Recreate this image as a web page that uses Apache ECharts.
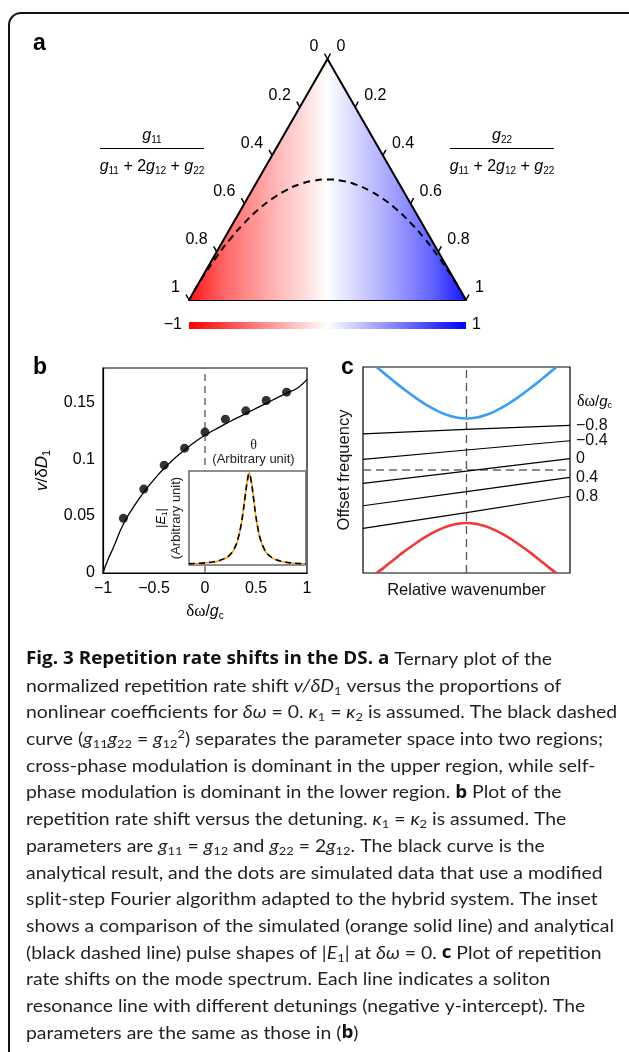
<!DOCTYPE html>
<html>
<head>
<meta charset="utf-8">
<script src="https://cdn.jsdelivr.net/npm/echarts@6/dist/echarts.min.js"></script>
<style>
  html, body { margin: 0; padding: 0; background: #fff; }
  #chart { width: 629px; height: 1052px; }
</style>
</head>
<body>
<div id="chart"></div>
<script>
// ---------- data ----------
// a: ternary plot, g11 fraction on the left edge, g22 fraction on the right edge
const ternTicks = [0, 0.2, 0.4, 0.6, 0.8, 1];
const ternTickLabels = ['0', '0.2', '0.4', '0.6', '0.8', '1'];
// triangle corners in plot coords (x along base, y = height fraction)
const cornerX = [0, 0.5, 1];
const cornerY = [0, 1, 0];
// dashed boundary curve (g11 g22 = g12^2)
const boundaryX = [0.02, 0.05, 0.1, 0.15, 0.2, 0.25, 0.3, 0.35, 0.4, 0.45, 0.5, 0.55, 0.6, 0.65, 0.7, 0.75, 0.8, 0.85, 0.9, 0.95, 0.98];
const boundaryY = [0.04, 0.095, 0.18, 0.255, 0.32, 0.375, 0.42, 0.455, 0.48, 0.495, 0.5, 0.495, 0.48, 0.455, 0.42, 0.375, 0.32, 0.255, 0.18, 0.095, 0.04];

// b: repetition rate shift vs detuning
const detuning = [-1, -0.95, -0.9, -0.8, -0.7, -0.6, -0.5, -0.4, -0.3, -0.2, -0.1, 0, 0.1, 0.2, 0.3, 0.4, 0.5, 0.6, 0.7, 0.8, 0.9, 0.95, 1];
const shiftTheory = [0, 0.012, 0.022, 0.043, 0.058, 0.071, 0.082, 0.092, 0.1005, 0.108, 0.115, 0.121, 0.126, 0.131, 0.1355, 0.14, 0.1445, 0.149, 0.1535, 0.158, 0.162, 0.1655, 0.17];
const simDetuning = [-0.8, -0.6, -0.4, -0.2, 0, 0.2, 0.4, 0.6, 0.8];
const shiftSim = [0.048, 0.0737, 0.0947, 0.1096, 0.1237, 0.135, 0.1424, 0.1515, 0.1588];

// b inset: pulse shape |E1|
const insetTheta = [0, 0.1, 0.2, 0.25, 0.3, 0.34, 0.37, 0.4, 0.42, 0.44, 0.46, 0.48, 0.5, 0.514, 0.53, 0.55, 0.57, 0.59, 0.61, 0.64, 0.67, 0.72, 0.8, 0.9, 1];
const pulseSim = [0.003, 0.008, 0.02, 0.033, 0.055, 0.085, 0.13, 0.2, 0.28, 0.39, 0.55, 0.75, 0.93, 1, 0.93, 0.74, 0.54, 0.38, 0.27, 0.17, 0.11, 0.06, 0.025, 0.009, 0.003];
const pulseTheory = [0.004, 0.01, 0.023, 0.037, 0.06, 0.09, 0.135, 0.205, 0.285, 0.395, 0.55, 0.74, 0.92, 0.99, 0.92, 0.735, 0.54, 0.385, 0.275, 0.175, 0.115, 0.064, 0.028, 0.01, 0.004];

// c: mode spectrum
const waveK = [-0.87, -0.8, -0.7, -0.6, -0.5, -0.4, -0.3, -0.2, -0.1, 0, 0.1, 0.2, 0.3, 0.4, 0.5, 0.6, 0.7, 0.8, 0.87];
const upperBranch = [1, 0.943, 0.86, 0.781, 0.707, 0.64, 0.583, 0.539, 0.51, 0.5, 0.51, 0.539, 0.583, 0.64, 0.707, 0.781, 0.86, 0.943, 1];
const lowerBranch = [-1, -0.95, -0.868, -0.79, -0.718, -0.652, -0.596, -0.552, -0.525, -0.515, -0.525, -0.552, -0.596, -0.652, -0.718, -0.79, -0.868, -0.95, -1];
const lineK = [-1, 0, 1];
const resonanceLabels = ['\u22120.8', '\u22120.4', '0', '0.4', '0.8'];
const resonanceLines = [
  [0.35, 0.395, 0.434],
  [0.104, 0.194, 0.284],
  [-0.129, -0.01, 0.11],
  [-0.347, -0.21, -0.071],
  [-0.566, -0.414, -0.255]
];

// caption
const captionLines = [
  '{b|Fig. 3 Repetition rate shifts in the DS. a} Ternary plot of the',
  'normalized repetition rate shift {i|v/\u03b4D}{s|1} versus the proportions of',
  'nonlinear coefficients for {i|\u03b4\u03c9} = 0. {i|\u03ba}{s|1} = {i|\u03ba}{s|2} is assumed. The black dashed',
  'curve ({i|g}{s|11}{i|g}{s|22} = {i|g}{s|12}{p|2}) separates the parameter space into two regions;',
  'cross-phase modulation is dominant in the upper region, while self-',
  'phase modulation is dominant in the lower region. {b|b} Plot of the',
  'repetition rate shift versus the detuning. {i|\u03ba}{s|1} = {i|\u03ba}{s|2} is assumed. The',
  'parameters are {i|g}{s|11} = {i|g}{s|12} and {i|g}{s|22} = 2{i|g}{s|12}. The black curve is the',
  'analytical result, and the dots are simulated data that use a modified',
  'split-step Fourier algorithm adapted to the hybrid system. The inset',
  'shows a comparison of the simulated (orange solid line) and analytical',
  '(black dashed line) pulse shapes of |{i|E}{s|1}| at {i|\u03b4\u03c9} = 0. {b|c} Plot of repetition',
  'rate shifts on the mode spectrum. Each line indicates a soliton',
  'resonance line with different detunings (negative y-intercept). The',
  'parameters are the same as those in ({b|b})'
];

// ---------- styles ----------
const SANS = '"Liberation Sans", Arial, sans-serif';
const SERIF = '"Liberation Serif", "Times New Roman", serif';
const CAP = 'Lato, "Open Sans", sans-serif';
const CAP_BOLD = '"Open Sans", Lato, sans-serif';

const zip = (xs, ys) => xs.map((x, i) => [x, ys[i]]);

function labelRich(size, lineH) {
  const sub = Math.round(size * 0.62);
  return {
    i: { fontFamily: SANS, fontSize: size, fontStyle: 'italic', color: '#000', fill: '#000', lineHeight: lineH },
    s: { fontFamily: SANS, fontSize: sub, color: '#000', fill: '#000', lineHeight: sub + 1, verticalAlign: 'bottom' },
    d: { fontFamily: SERIF, fontSize: size + 1, color: '#000', fill: '#000', lineHeight: lineH },
    n: { fontFamily: SANS, fontSize: size, color: '#000', fill: '#000', lineHeight: lineH }
  };
}

const capRich = {
  b: { fontFamily: CAP_BOLD, fontSize: 17.5, fontWeight: 'bold', fill: '#111', lineHeight: 22 },
  i: { fontFamily: CAP, fontSize: 18, fontStyle: 'italic', fill: '#231f20', lineHeight: 22 },
  s: { fontFamily: CAP, fontSize: 12, fill: '#231f20', lineHeight: 13, verticalAlign: 'bottom' },
  p: { fontFamily: CAP, fontSize: 12, fill: '#231f20', lineHeight: 13, verticalAlign: 'top' }
};

// squeeze caption so lines break like the printed page
const measure = document.createElement('canvas').getContext('2d');
measure.font = '18px Lato';
const capScale = 588 / measure.measureText('shows a comparison of the simulated (orange solid line) and analytical').width;

const chart = echarts.init(document.getElementById('chart'));

const hidden = { show: false };
const tickData = ternTicks.map((t) => [0, t]).concat(ternTicks.map((t) => [1, t]));

function fraction(cx, numer) {
  return [
    { type: 'text', x: cx, y: 136, style: { text: numer, align: 'center', verticalAlign: 'middle', fontFamily: SANS, fontSize: 16, fill: '#000', lineHeight: 18, rich: labelRich(16, 18) } },
    { type: 'line', shape: { x1: cx - 52, y1: 148.5, x2: cx + 52, y2: 148.5 }, style: { stroke: '#000', lineWidth: 1 } },
    { type: 'text', x: cx, y: 167, style: { text: '{i|g}{s|11} + 2{i|g}{s|12} + {i|g}{s|22}', align: 'center', verticalAlign: 'middle', fontFamily: SANS, fontSize: 16, fill: '#000', lineHeight: 18, rich: labelRich(16, 18) } }
  ];
}

const option = {
  animation: false,
  backgroundColor: '#fff',
  grid: [
    { left: 189, top: 59, width: 277, height: 241, outerBoundsMode: 'none' },
    { left: 103, top: 368, width: 204, height: 205, show: true, borderColor: '#000', borderWidth: 1.2, outerBoundsMode: 'none' },
    { left: 189, top: 471, width: 117, height: 94, show: true, borderColor: '#6b6b6b', borderWidth: 1.6, backgroundColor: '#fff', z: 3, outerBoundsMode: 'none' },
    { left: 363, top: 367, width: 207, height: 206, show: true, borderColor: '#000', borderWidth: 1.2, outerBoundsMode: 'none' }
  ],
  xAxis: [
    { gridIndex: 0, type: 'value', min: 0, max: 1, axisLine: { show: true, onZero: false, lineStyle: { color: '#000', width: 2 } }, axisTick: hidden, axisLabel: hidden, splitLine: hidden },
    {
      gridIndex: 1, type: 'value', min: -1, max: 1, interval: 0.5,
      axisLine: { onZero: false, lineStyle: { color: '#000', width: 1.2 } }, axisTick: hidden, splitLine: hidden,
      axisLabel: { color: '#000', fontSize: 16, fontFamily: SANS, margin: 8, formatter: (v) => String(v).replace('-', '\u2212') },
      name: '{d|\u03b4\u03c9}/{i|g}{s|c}', nameLocation: 'middle', nameGap: 30,
      nameTextStyle: { fontFamily: SANS, fontSize: 16, color: '#000', lineHeight: 18, rich: labelRich(16, 18) }
    },
    {
      gridIndex: 2, type: 'value', min: 0, max: 1, position: 'top', z: 5,
      axisLine: { show: false, onZero: false }, axisTick: hidden, axisLabel: hidden, splitLine: hidden,
      name: '{t|\u03b8}\n(Arbitrary unit)', nameLocation: 'middle', nameGap: 5,
      nameTextStyle: {
        fontFamily: SANS, fontSize: 13, color: '#222', lineHeight: 14, padding: [0, 0, 0, 12],
        rich: { t: { fontFamily: SERIF, fontSize: 14, color: '#222', lineHeight: 14 } }
      }
    },
    {
      gridIndex: 3, type: 'value', min: -1, max: 1,
      axisLine: { show: false, onZero: false }, axisTick: hidden, axisLabel: hidden, splitLine: hidden,
      name: 'Relative wavenumber', nameLocation: 'middle', nameGap: 9,
      nameTextStyle: { fontFamily: SANS, fontSize: 16.5, color: '#111' }
    }
  ],
  yAxis: [
    { gridIndex: 0, type: 'value', min: 0, max: 1, show: false },
    {
      gridIndex: 1, type: 'value', min: 0, max: 0.18, interval: 0.05,
      axisLine: { show: true, onZero: false, lineStyle: { color: '#000', width: 1.2 } }, axisTick: hidden, splitLine: hidden,
      axisLabel: {
        color: '#000', fontSize: 16, fontFamily: SANS, margin: 8,
        formatter: (v) => (Math.abs(v * 20 - Math.round(v * 20)) < 1e-6 ? String(+v.toFixed(2)) : '')
      },
      name: '{i|v}/\u03b4{i|D}{s|1}', nameLocation: 'middle', nameRotate: 90, nameGap: 51,
      nameTextStyle: { fontFamily: SANS, fontSize: 17, color: '#000', lineHeight: 19, rich: labelRich(17, 19) }
    },
    {
      gridIndex: 2, type: 'value', min: -0.01, max: 1.02, z: 5,
      axisLine: { show: false, onZero: false }, axisTick: hidden, axisLabel: hidden, splitLine: hidden,
      name: '|{i|E}{s|1}|\n(Arbitrary unit)', nameLocation: 'middle', nameRotate: 90, nameGap: 5,
      nameTextStyle: { fontFamily: SANS, fontSize: 13, color: '#222', lineHeight: 15, rich: labelRich(13, 15) }
    },
    {
      gridIndex: 3, type: 'value', min: -1, max: 1,
      axisLine: { show: false, onZero: false }, axisTick: hidden, axisLabel: hidden, splitLine: hidden,
      name: 'Offset frequency', nameLocation: 'middle', nameRotate: 90, nameGap: 10,
      nameTextStyle: { fontFamily: SANS, fontSize: 16.5, color: '#111' }
    }
  ],
  series: [
    // a: triangle with red-white-blue fill
    {
      type: 'line', xAxisIndex: 0, yAxisIndex: 0, z: 1,
      data: zip(cornerX, cornerY), symbol: 'none',
      lineStyle: { color: '#000', width: 2, join: 'miter' },
      areaStyle: {
        opacity: 1,
        color: new echarts.graphic.LinearGradient(0, 0, 1, 0, [
          { offset: 0, color: '#ff1414' },
          { offset: 0.12, color: '#ff6262' },
          { offset: 0.28, color: '#ffa8a8' },
          { offset: 0.42, color: '#ffdede' },
          { offset: 0.5, color: '#ffffff' },
          { offset: 0.58, color: '#dedeff' },
          { offset: 0.72, color: '#a8a8ff' },
          { offset: 0.88, color: '#6262ff' },
          { offset: 1, color: '#1414ff' }
        ])
      }
    },
    // a: dashed boundary
    {
      type: 'line', xAxisIndex: 0, yAxisIndex: 0, z: 3,
      data: zip(boundaryX, boundaryY), symbol: 'none', smooth: true,
      lineStyle: { color: '#000', width: 2, type: [7, 5] }
    },
    // a: ternary ticks and labels
    {
      type: 'custom', xAxisIndex: 0, yAxisIndex: 0, z: 4,
      data: tickData,
      renderItem: (params, api) => {
        const side = api.value(0);
        const t = api.value(1);
        const p = api.coord([side === 0 ? 0.5 - 0.5 * t : 0.5 + 0.5 * t, 1 - t]);
        const dir = side === 0 ? -1 : 1;
        return {
          type: 'group',
          children: [
            { type: 'line', shape: { x1: p[0], y1: p[1], x2: p[0] + dir * 3, y2: p[1] - 5.5 }, style: { stroke: '#000', lineWidth: 1.5 } },
            {
              type: 'text', x: p[0] + dir * 9, y: p[1] - 12,
              style: { text: ternTickLabels[params.dataIndex % ternTicks.length], align: side === 0 ? 'right' : 'left', verticalAlign: 'middle', fontFamily: SANS, fontSize: 16, fill: '#000' }
            }
          ]
        };
      }
    },
    // b: detuning marker
    {
      type: 'line', xAxisIndex: 1, yAxisIndex: 1, z: 1,
      data: [[0, 0], [0, 0.18]], symbol: 'none',
      lineStyle: { color: '#555', width: 1.3, type: [7, 5] }
    },
    // b: analytical curve
    {
      type: 'line', xAxisIndex: 1, yAxisIndex: 1, z: 2,
      data: zip(detuning, shiftTheory), symbol: 'none', smooth: true,
      lineStyle: { color: '#000', width: 1.3 }
    },
    // b: simulated points
    {
      type: 'scatter', xAxisIndex: 1, yAxisIndex: 1, z: 2,
      data: zip(simDetuning, shiftSim), symbolSize: 9,
      itemStyle: { color: '#000' }
    },
    // inset: simulated pulse
    {
      type: 'line', xAxisIndex: 2, yAxisIndex: 2, z: 6,
      data: zip(insetTheta, pulseSim), symbol: 'none', smooth: true,
      lineStyle: { color: '#f7a21b', width: 1.6 }
    },
    // inset: analytical pulse
    {
      type: 'line', xAxisIndex: 2, yAxisIndex: 2, z: 7,
      data: zip(insetTheta, pulseTheory), symbol: 'none', smooth: true,
      lineStyle: { color: '#000', width: 1.6, type: [6, 4] }
    },
    // c: dashed guides
    {
      type: 'line', xAxisIndex: 3, yAxisIndex: 3, z: 1,
      data: [[0, -1], [0, 1]], symbol: 'none',
      lineStyle: { color: '#555', width: 1.3, type: [8, 5] }
    },
    {
      type: 'line', xAxisIndex: 3, yAxisIndex: 3, z: 1,
      data: [[-1, 0], [1, 0]], symbol: 'none',
      lineStyle: { color: '#666', width: 1.3, type: [8, 5] }
    },
    // c: upper and lower branches
    {
      type: 'line', xAxisIndex: 3, yAxisIndex: 3, z: 2,
      data: zip(waveK, upperBranch), symbol: 'none', smooth: true,
      lineStyle: { color: '#3d9df0', width: 2.6 }
    },
    {
      type: 'line', xAxisIndex: 3, yAxisIndex: 3, z: 2,
      data: zip(waveK, lowerBranch), symbol: 'none', smooth: true,
      lineStyle: { color: '#f03a3a', width: 2.6 }
    }
  ].concat(resonanceLines.map((ys, i) => ({
    type: 'line', xAxisIndex: 3, yAxisIndex: 3, z: 3,
    name: resonanceLabels[i],
    data: zip(lineK, ys), symbol: 'none',
    lineStyle: { color: '#000', width: 1.2 },
    endLabel: { show: true, formatter: resonanceLabels[i], color: '#111', fontFamily: SANS, fontSize: 16, distance: 6 }
  }))),
  graphic: [
    // page frame
    { type: 'rect', shape: { x: 9, y: 13, width: 640, height: 1100, r: 12 }, style: { fill: 'none', stroke: '#111', lineWidth: 2 }, z: 0 },
    // panel letters
    { type: 'text', x: 33, y: 44, style: { text: 'a', fontFamily: SANS, fontWeight: 'bold', fontSize: 23, fill: '#000', verticalAlign: 'middle' } },
    { type: 'text', x: 33, y: 368, style: { text: 'b', fontFamily: SANS, fontWeight: 'bold', fontSize: 23, fill: '#000', verticalAlign: 'middle' } },
    { type: 'text', x: 341, y: 368, style: { text: 'c', fontFamily: SANS, fontWeight: 'bold', fontSize: 23, fill: '#000', verticalAlign: 'middle' } },
    // colour bar
    {
      type: 'rect', shape: { x: 189, y: 322, width: 277, height: 7 },
      style: {
        fill: new echarts.graphic.LinearGradient(0, 0, 1, 0, [
          { offset: 0, color: '#ff0000' },
          { offset: 0.5, color: '#ffffff' },
          { offset: 1, color: '#0000ff' }
        ])
      }
    },
    { type: 'text', x: 182, y: 325, style: { text: '\u22121', align: 'right', verticalAlign: 'middle', fontFamily: SANS, fontSize: 16, fill: '#000' } },
    { type: 'text', x: 472, y: 325, style: { text: '1', align: 'left', verticalAlign: 'middle', fontFamily: SANS, fontSize: 16, fill: '#000' } },
    // c: title for the resonance line labels
    { type: 'text', x: 577, y: 402, style: { text: '{d|\u03b4\u03c9}/{i|g}{s|c}', align: 'left', verticalAlign: 'middle', fontFamily: SANS, fontSize: 15, fill: '#000', lineHeight: 17, rich: labelRich(15, 17) } }
  ]
    .concat(fraction(152, '{i|g}{s|11}'))
    .concat(fraction(502, '{i|g}{s|22}'))
    .concat(captionLines.map((t, k) => ({
      type: 'text', x: 26, y: 659 + 26.72 * k, scaleX: capScale,
      style: { text: t, fontFamily: CAP, fontSize: 18, fill: '#231f20', lineHeight: 22, verticalAlign: 'middle', rich: capRich }
    })))
};

chart.setOption(option);
window.addEventListener('resize', () => chart.resize());
</script>
</body>
</html>
